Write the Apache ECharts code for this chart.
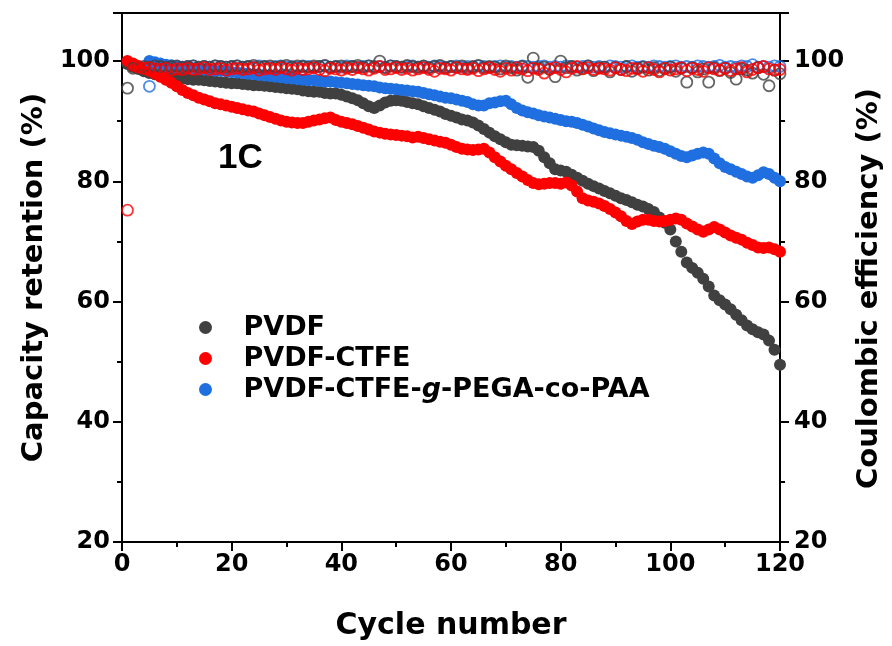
<!DOCTYPE html>
<html>
<head>
<meta charset="utf-8">
<script src="https://cdn.jsdelivr.net/npm/echarts@6/dist/echarts.min.js"></script>
<style>
  html, body { margin: 0; padding: 0; background: #fff; }
  #chart { width: 892px; height: 646px; }
</style>
</head>
<body>
<div id="chart"></div>
<script>
// capacity retention (%) per cycle, cycles 1..120
const pvdfCap = [
  99.5, 99.0, 98.7, 98.3, 98.0, 97.8, 97.6, 97.5, 97.3, 97.2,
  97.1, 97.0, 96.9, 96.9, 96.8, 96.7, 96.6, 96.5, 96.4, 96.3,
  96.3, 96.2, 96.1, 96.0, 96.0, 95.9, 95.8, 95.7, 95.6, 95.5,
  95.4, 95.3, 95.1, 95.0, 94.9, 94.9, 94.7, 94.6, 94.6, 94.4,
  94.1, 93.8, 93.5, 93.0, 92.5, 92.2, 92.6, 93.1, 93.4, 93.5,
  93.4, 93.2, 93.0, 92.8, 92.5, 92.2, 91.9, 91.6, 91.2, 90.9,
  90.6, 90.3, 90.1, 89.8, 89.3, 88.7, 88.1, 87.5, 87.0, 86.5,
  86.1, 86.0, 85.9, 85.8, 85.7, 85.1, 84.0, 83.0, 82.0, 81.8,
  81.6, 81.1, 80.6, 80.1, 79.6, 79.2, 78.8, 78.4, 78.0, 77.6,
  77.2, 76.9, 76.5, 76.1, 75.8, 75.4, 74.9, 74.0, 73.1, 72.0,
  70.0, 68.3, 66.5, 65.6, 64.8, 63.8, 62.5, 61.0, 60.2, 59.5,
  58.7, 57.8, 56.9, 56.0, 55.4, 54.9, 54.5, 53.5, 52.0, 49.5
];
const ctfeCap = [
  100.0, 99.6, 99.2, 98.8, 98.4, 97.9, 97.4, 96.9, 96.4, 95.8,
  95.2, 94.7, 94.3, 93.9, 93.6, 93.3, 93.0, 92.8, 92.6, 92.4,
  92.2, 92.0, 91.8, 91.6, 91.3, 91.0, 90.7, 90.4, 90.1, 89.9,
  89.8, 89.7, 89.7, 89.9, 90.1, 90.3, 90.5, 90.6, 90.2, 89.9,
  89.7, 89.5, 89.2, 88.9, 88.6, 88.3, 88.1, 87.9, 87.8, 87.7,
  87.6, 87.5, 87.3, 87.4, 87.2, 87.0, 86.8, 86.6, 86.4, 86.1,
  85.7, 85.4, 85.3, 85.2, 85.3, 85.4, 84.8, 84.0, 83.3, 82.6,
  82.0, 81.4, 80.8, 80.2, 79.7, 79.5, 79.6, 79.7, 79.7, 79.6,
  79.8, 79.3, 78.3, 77.2, 76.8, 76.6, 76.3, 75.9, 75.4, 74.8,
  74.2, 73.4, 72.9, 73.3, 73.6, 73.6, 73.4, 73.3, 73.4, 73.6,
  73.8, 73.6, 73.0, 72.5, 72.0, 71.6, 72.0, 72.4, 72.0, 71.5,
  71.0, 70.6, 70.3, 69.8, 69.4, 69.0, 68.9, 69.0, 68.7, 68.3
];
// grafted binder starts at cycle 5
const graftStart = 5;
const graftCap = [
  100.0, 99.8, 99.6, 99.4, 99.3, 99.1,
  99.0, 98.9, 98.8, 98.7, 98.6, 98.5, 98.4, 98.4, 98.3, 98.2,
  98.1, 98.0, 97.9, 97.8, 97.7, 97.6, 97.5, 97.4, 97.3, 97.2,
  97.1, 97.0, 96.9, 96.8, 96.8, 96.7, 96.6, 96.6, 96.5, 96.4,
  96.3, 96.2, 96.1, 96.0, 95.9, 95.8, 95.6, 95.5, 95.4, 95.3,
  95.2, 95.1, 95.0, 94.9, 94.7, 94.5, 94.3, 94.1, 93.9, 93.8,
  93.6, 93.4, 93.2, 92.8, 92.6, 92.6, 93.0, 93.1, 93.3, 93.4,
  92.8, 92.2, 91.8, 91.5, 91.3, 91.0, 90.8, 90.6, 90.4, 90.2,
  90.0, 89.9, 89.7, 89.4, 89.1, 88.8, 88.5, 88.2, 88.0, 87.8,
  87.6, 87.4, 87.2, 86.9, 86.5, 86.2, 85.9, 85.7, 85.4, 85.0,
  84.6, 84.2, 84.0, 84.3, 84.6, 84.8, 84.6, 83.8, 83.0, 82.4,
  82.0, 81.6, 81.2, 80.8, 80.6, 81.0, 81.5, 81.2, 80.6, 80.0
];

// coulombic efficiency (%)
const pvdfCE = [
  95.5, 98.8, 99.0, 99.1, 99.0, 99.2, 99.1, 99.0, 99.1, 99.2,
  99.0, 99.1, 99.2, 99.0, 99.1, 99.0, 99.2, 99.1, 99.0, 99.1,
  99.2, 99.0, 99.1, 99.3, 99.0, 99.1, 99.2, 99.0, 99.1, 99.3,
  99.0, 99.2, 99.1, 99.0, 99.2, 99.1, 99.3, 99.0, 99.1, 99.2,
  99.0, 99.1, 99.3, 99.0, 99.2, 99.1, 100.0, 98.9, 99.2, 99.1,
  99.0, 99.3, 99.1, 99.0, 99.2, 98.9, 99.1, 99.3, 98.9, 99.1,
  99.0, 99.2, 98.8, 99.1, 99.3, 98.9, 99.1, 99.0, 98.7, 99.2,
  98.9, 98.5, 99.1, 97.3, 100.5, 98.8, 99.0, 98.6, 97.4, 100.0,
  98.9, 99.1, 98.5, 98.8, 99.2, 98.4, 98.9, 99.0, 98.2, 98.9,
  98.6, 99.1, 98.3, 98.8, 99.0, 98.5, 98.9, 98.4, 98.7, 99.0,
  98.3, 98.8, 96.5, 98.9, 98.2, 98.7, 96.5, 98.9, 98.4, 98.8,
  98.1, 97.0, 98.7, 98.5, 98.0, 98.9, 97.8, 95.9, 98.5, 97.9
];
const ctfeCE = [
  75.2, 99.3, 99.0, 98.8, 98.9, 98.7, 98.6, 98.8, 98.5, 98.7,
  98.6, 98.8, 98.6, 98.7, 98.9, 98.6, 98.7, 98.8, 98.5, 98.7,
  98.8, 98.6, 98.7, 98.9, 98.5, 98.7, 98.8, 98.6, 98.9, 98.7,
  98.5, 98.8, 98.6, 98.7, 98.9, 98.6, 98.4, 98.8, 98.7, 98.5,
  98.8, 98.6, 98.9, 98.7, 98.5, 98.8, 99.1, 98.6, 98.7, 98.9,
  98.6, 98.8, 98.5, 98.7, 98.9, 98.6, 98.3, 98.8, 98.7, 98.5,
  98.9, 98.7, 98.6, 98.8, 98.4, 98.7, 98.9, 98.6, 98.3, 98.8,
  98.5, 98.9, 98.7, 98.4, 98.8, 98.6, 98.0, 98.7, 98.9, 98.6,
  98.2, 98.8, 99.1, 98.7, 98.9, 98.6, 98.8, 98.7, 98.5, 98.9,
  98.6, 98.4, 98.8, 98.7, 98.3, 98.9, 98.6, 98.2, 98.8, 98.5,
  98.7, 98.9, 98.4, 98.8, 98.6, 98.3, 98.9, 98.7, 98.5, 98.8,
  98.4, 98.7, 98.9, 98.2, 98.6, 98.9, 99.1, 98.7, 98.5, 98.6
];
const graftCE = [
  95.8, 99.4, 99.2, 99.1, 99.0, 99.1,
  99.0, 99.1, 99.2, 99.0, 99.1, 99.0, 99.2, 99.1, 99.0, 99.1,
  99.2, 99.0, 99.1, 99.0, 99.2, 99.1, 99.0, 99.1, 99.2, 99.0,
  99.1, 99.0, 99.2, 99.1, 99.0, 99.1, 99.2, 99.0, 99.1, 99.0,
  99.2, 99.1, 99.0, 99.1, 99.2, 99.0, 99.1, 99.0, 99.2, 99.1,
  99.0, 99.1, 99.2, 99.0, 99.1, 99.0, 99.2, 99.1, 99.0, 99.1,
  99.2, 99.0, 99.1, 99.0, 99.2, 99.1, 99.0, 99.1, 99.2, 99.0,
  99.1, 99.0, 99.2, 99.1, 99.0, 99.1, 99.2, 99.0, 99.1, 99.0,
  99.2, 99.1, 99.0, 99.1, 99.2, 99.0, 99.1, 99.0, 99.2, 99.1,
  99.0, 99.1, 99.2, 99.0, 99.1, 99.0, 99.2, 99.1, 99.0, 99.1,
  99.2, 99.0, 99.1, 99.0, 99.2, 99.1, 99.0, 99.1, 99.3, 99.0,
  99.1, 99.0, 99.2, 99.1, 99.4, 99.0, 99.1, 99.0, 99.2, 99.1
];

const names = ["PVDF", "PVDF-CTFE", "PVDF-CTFE-g-PEGA-co-PAA"];
const colors = ["#404040", "#ff0000", "#1f6fe0"];
const FONT = "'DejaVu Sans', sans-serif";
const FONT_1C = "'Liberation Sans', Arial, sans-serif";

// pair each value with its cycle number
const pairs = (vals, start) => vals.map((v, i) => [start + i, v]);

const filled = (name, color, vals, start) => ({
  name, type: "scatter", yAxisIndex: 0, data: pairs(vals, start),
  symbol: "circle", symbolSize: 12,
  itemStyle: { color, opacity: 1 },
  emphasis: { disabled: true }, z: 2,
});
const hollow = (color, vals, start) => ({
  type: "scatter", yAxisIndex: 1, data: pairs(vals, start),
  symbol: "circle", symbolSize: 11,
  itemStyle: { color: "rgba(255,255,255,0)", borderColor: color, borderWidth: 1.8 },
  emphasis: { disabled: true }, z: 3,
});

const labelStyle = { fontFamily: FONT, fontWeight: "bold", fontSize: 24, color: "#000" };
const axisCommon = {
  min: 20, max: 108, interval: 20,
  axisLine: { show: true, lineStyle: { color: "#000", width: 2 } },
  axisTick: { show: true, inside: false, length: 9, lineStyle: { color: "#000", width: 2 } },
  minorTick: { show: true, splitNumber: 2, length: 5, lineStyle: { color: "#000", width: 2 } },
  splitLine: { show: false },
  nameLocation: "middle",
};

const ch = echarts.init(document.getElementById("chart"));
ch.setOption({
  backgroundColor: "#fff",
  animation: false,
  grid: {
    left: 122, right: 112, top: 13, bottom: 103,
    show: true, borderColor: "#000", borderWidth: 2,
  },
  xAxis: {
    type: "value", min: 0, max: 120, interval: 20,
    name: "Cycle number", nameLocation: "middle", nameGap: 69,
    nameTextStyle: { fontFamily: FONT, fontWeight: "bold", fontSize: 30, color: "#000" },
    axisLine: { show: true, lineStyle: { color: "#000", width: 2 } },
    axisTick: { show: true, length: 9, lineStyle: { color: "#000", width: 2 } },
    minorTick: { show: true, splitNumber: 2, length: 5, lineStyle: { color: "#000", width: 2 } },
    splitLine: { show: false },
    axisLabel: Object.assign({ margin: 11 }, labelStyle),
  },
  yAxis: [
    Object.assign({}, axisCommon, {
      position: "left", name: "Capacity retention (%)", nameGap: 72,
      nameTextStyle: { fontFamily: FONT, fontWeight: "bold", fontSize: 29, color: "#000" },
      axisLabel: Object.assign({ margin: 12, formatter: (v) => (v > 100 ? "" : v) }, labelStyle),
    }),
    Object.assign({}, axisCommon, {
      position: "right", name: "Coulombic efficiency (%)", nameGap: 73,
      nameRotate: 90,
      nameTextStyle: {
        fontFamily: FONT, fontWeight: "bold", fontSize: 29, color: "#000",
        padding: [0, 22, 0, 0],
      },
      axisLabel: Object.assign({ margin: 14, formatter: (v) => (v > 100 ? "" : v) }, labelStyle),
    }),
  ],
  legend: {
    orient: "vertical", left: 194, top: 309,
    itemWidth: 66, itemHeight: 13, itemGap: 4,
    icon: "circle",
    data: names,
    formatter: (n) => n === names[2]
      ? "{t|PVDF-CTFE-}{i|g}{t|-PEGA-co-PAA}"
      : "{t|" + n + "}",
    textStyle: {
      fontFamily: FONT, fontWeight: "bold", fontSize: 27, color: "#000",
      rich: {
        t: { fontFamily: FONT, fontWeight: "bold", fontSize: 27, color: "#000" },
        i: { fontFamily: FONT, fontWeight: "bold", fontStyle: "italic", fontSize: 27, color: "#000" },
      },
    },
  },
  graphic: [{
    type: "text", left: 218, top: 141,
    style: {
      text: "1C", fontFamily: FONT_1C, fontWeight: "bold", fontSize: 35, fill: "#000",
    },
  }],
  series: [
    filled(names[0], colors[0], pvdfCap, 1),
    filled(names[1], colors[1], ctfeCap, 1),
    filled(names[2], colors[2], graftCap, graftStart),
    hollow(colors[2], graftCE, graftStart),
    hollow(colors[0], pvdfCE, 1),
    hollow(colors[1], ctfeCE, 1),
  ],
});
</script>
</body>
</html>
